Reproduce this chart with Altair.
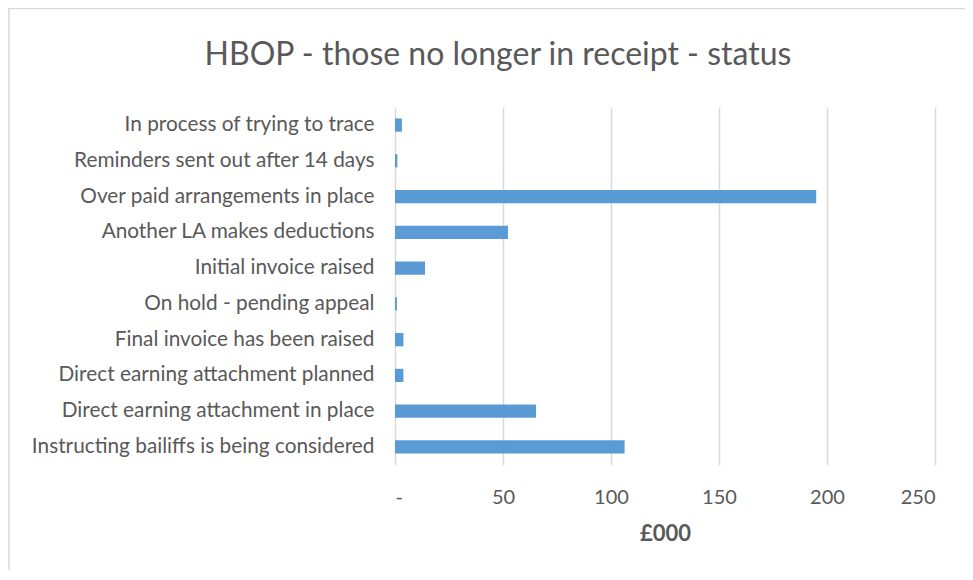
import altair as alt
import pandas as pd

categories = [
    "In process of trying to trace",
    "Reminders sent out after 14 days",
    "Over paid arrangements in place",
    "Another LA makes deductions",
    "Initial invoice raised",
    "On hold - pending appeal",
    "Final invoice has been raised",
    "Direct earning attachment planned",
    "Direct earning attachment in place",
    "Instructing bailiffs is being considered",
]
values = [3.2, 1.1, 195, 52.3, 13.9, 0.9, 3.9, 3.9, 65.3, 106.3]
x_ticks = [0, 50, 100, 150, 200, 250]

df = pd.DataFrame({"status": categories, "value": values})

FONT = "Lato"
GREY = "#595959"
BORDER = "#d9d9d9"

bars = alt.Chart(df).mark_bar(color="#5b9bd5").encode(
    x=alt.X(
        "value:Q",
        scale=alt.Scale(domain=[0, 250], nice=False),
        axis=alt.Axis(
            values=x_ticks,
            title="£000",
            titleFont=FONT,
            titleFontSize=22,
            titleFontWeight="bold",
            titleColor=GREY,
            titlePadding=16,
            labelFont=FONT,
            labelFontSize=20,
            labelColor=GREY,
            labelPadding=22,
            labelExpr="datum.value == 0 ? '-' : datum.label",
            domain=False,
            ticks=False,
            grid=True,
            gridColor=BORDER,
            gridWidth=1.5,
        ),
    ),
    y=alt.Y(
        "status:N",
        sort=categories,
        scale=alt.Scale(paddingInner=0.63, paddingOuter=0.32),
        axis=alt.Axis(
            title=None,
            labelFont=FONT,
            labelFontSize=20.8,
            labelColor=GREY,
            labelPadding=21,
            labelLimit=0,
            domain=False,
            ticks=False,
            grid=False,
        ),
    ),
)

frame_df = pd.DataFrame({"k": [0]})
border_left = alt.Chart(frame_df).mark_rule(color=BORDER, strokeWidth=1.5).encode(
    x=alt.value(-386), y=alt.value(-99), y2=alt.value(470)
)
border_top = alt.Chart(frame_df).mark_rule(color=BORDER, strokeWidth=1.5).encode(
    x=alt.value(-387), x2=alt.value(570), y=alt.value(-98.5)
)

chart = alt.layer(border_left, border_top, bars).properties(
    width=540,
    height=358,
    autosize=alt.AutoSizeParams(type="none"),
    padding={"left": 387, "top": 99, "right": 30, "bottom": 105},
    title=alt.TitleParams(
        "HBOP - those no longer in receipt - status",
        font=FONT,
        fontSize=32,
        fontWeight="normal",
        color=GREY,
        anchor="middle",
        frame="group",
        baseline="alphabetic",
        dx=-167,
        offset=-90,
    ),
).configure(background="white").configure_view(stroke=None)

chart.save("out.html", embed_options={"renderer": "svg", "actions": False})
